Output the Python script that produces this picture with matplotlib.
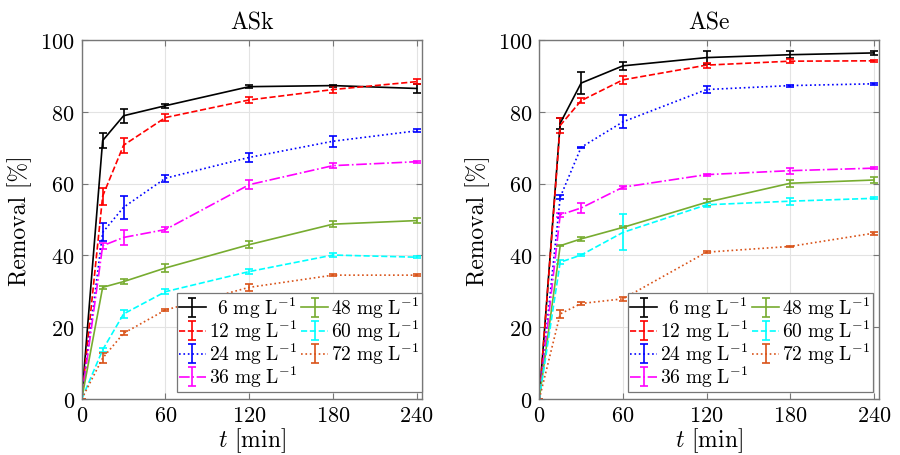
import matplotlib
matplotlib.use("Agg")

import matplotlib.pyplot as plt

plt.rcParams["font.family"] = "cmr10"
plt.rcParams["mathtext.fontset"] = "cm"
plt.rcParams["axes.unicode_minus"] = False
plt.rcParams["axes.formatter.use_mathtext"] = True

t_min = [0, 15, 30, 60, 120, 180, 240]
doses = ["6", "12", "24", "36", "48", "60", "72"]

# ASk removal (%) and standard deviations
ask_mean = {
    "6":  [0, 72.0, 78.9, 81.7, 87.0, 87.3, 86.5],
    "12": [0, 56.5, 70.7, 78.4, 83.3, 86.2, 88.4],
    "24": [0, 46.4, 53.4, 61.5, 67.3, 71.8, 74.7],
    "36": [0, 42.7, 45.0, 47.2, 59.7, 65.0, 66.1],
    "48": [0, 31.1, 32.7, 36.5, 43.0, 48.7, 49.7],
    "60": [0, 13.7, 23.7, 29.9, 35.5, 40.1, 39.5],
    "72": [0, 11.4, 18.3, 24.8, 31.1, 34.5, 34.5],
}
ask_sd = {
    "6":  [0, 2.0, 1.9, 0.6, 0.5, 0.3, 1.2],
    "12": [0, 2.4, 2.1, 1.0, 0.8, 0.9, 0.7],
    "24": [0, 2.5, 3.2, 1.0, 1.2, 1.5, 0.4],
    "36": [0, 0.8, 2.0, 0.8, 1.3, 0.6, 0.3],
    "48": [0, 0.4, 0.7, 1.2, 0.9, 0.9, 0.8],
    "60": [0, 0.6, 1.0, 0.7, 0.6, 0.5, 0.3],
    "72": [0, 1.3, 0.6, 0.3, 1.0, 0.2, 0.2],
}

# ASe removal (%) and standard deviations
ase_mean = {
    "6":  [0, 76.8, 88.0, 92.8, 95.1, 95.9, 96.4],
    "12": [0, 76.2, 83.1, 88.9, 93.0, 94.1, 94.2],
    "24": [0, 56.2, 70.1, 77.2, 86.2, 87.3, 87.8],
    "36": [0, 51.3, 53.2, 59.0, 62.5, 63.6, 64.3],
    "48": [0, 42.7, 44.6, 47.8, 54.8, 60.1, 61.0],
    "60": [0, 38.1, 40.1, 46.4, 54.1, 55.1, 55.9],
    "72": [0, 23.7, 26.6, 27.9, 40.9, 42.5, 46.2],
}
ase_sd = {
    "6":  [0, 1.5, 3.0, 1.2, 1.7, 1.0, 0.5],
    "12": [0, 2.0, 0.7, 1.2, 0.7, 0.6, 0.3],
    "24": [0, 0.5, 0.2, 1.8, 1.0, 0.3, 0.3],
    "36": [0, 0.5, 1.5, 0.4, 0.3, 0.8, 0.3],
    "48": [0, 0.2, 0.5, 0.3, 1.0, 1.0, 0.8],
    "60": [0, 0.5, 0.4, 5.0, 0.6, 1.0, 0.3],
    "72": [0, 1.0, 0.3, 0.6, 0.2, 0.2, 0.4],
}

styles = {
    "6":  ("black", "-"),
    "12": ("#ff0000", "--"),
    "24": ("#0000ff", ":"),
    "36": ("#ff00ff", "-."),
    "48": ("#77ac30", "-"),
    "60": ("#00ffff", "--"),
    "72": ("#d95319", ":"),
}


def label_for(d):
    pad = r"\enspace" if len(d) == 1 else ""
    return r"$%s\mathrm{%s\ mg\ L^{-1}}$" % (pad, d)


def draw_panel(ax, means, sds, title, legend_x):
    for d in doses:
        color, ls = styles[d]
        ax.errorbar(t_min, means[d], yerr=sds[d], color=color, ls=ls,
                    lw=1.2, elinewidth=1.2, capsize=2.8, capthick=1.2,
                    label=label_for(d))
    ax.set_xlim(0, 243.6)
    ax.set_ylim(0, 100)
    ax.set_xticks([0, 60, 120, 180, 240])
    ax.set_yticks([0, 20, 40, 60, 80, 100])
    ax.grid(True, color="#e3e3e3", lw=0.8)
    ax.set_axisbelow(True)
    ax.tick_params(direction="in", top=True, right=True, length=4,
                   color="#777777", labelsize=16, pad=5)
    for s in ax.spines.values():
        s.set_color("#777777")
        s.set_linewidth(1.0)
    ax.set_title(title, fontsize=17, pad=8)
    ax.set_xlabel(r"$t$ [min]", fontsize=17, labelpad=0)
    leg = ax.legend(ncol=2, loc="lower right", bbox_to_anchor=(legend_x, 0.02),
                    borderaxespad=0, fontsize=14, handlelength=1.4,
                    handletextpad=0.15, columnspacing=0.2, labelspacing=-0.12,
                    borderpad=0.12, fancybox=False, framealpha=1)
    leg.get_frame().set_edgecolor("#777777")
    leg.get_frame().set_linewidth(0.9)


fig = plt.figure(figsize=(9, 4.56), dpi=100)
ax1 = fig.add_axes([0.0908, 0.1228, 0.3778, 0.7873])
ax2 = fig.add_axes([0.5992, 0.1228, 0.3774, 0.7873])

draw_panel(ax1, ask_mean, ask_sd, "ASk", 1.0)
draw_panel(ax2, ase_mean, ase_sd, "ASe", 0.982)
ax1.set_ylabel("Removal [%]", fontsize=17, labelpad=6)
ax2.set_ylabel("Removal [%]", fontsize=17, labelpad=6)

fig.savefig("out.png", dpi=100, facecolor="white")
